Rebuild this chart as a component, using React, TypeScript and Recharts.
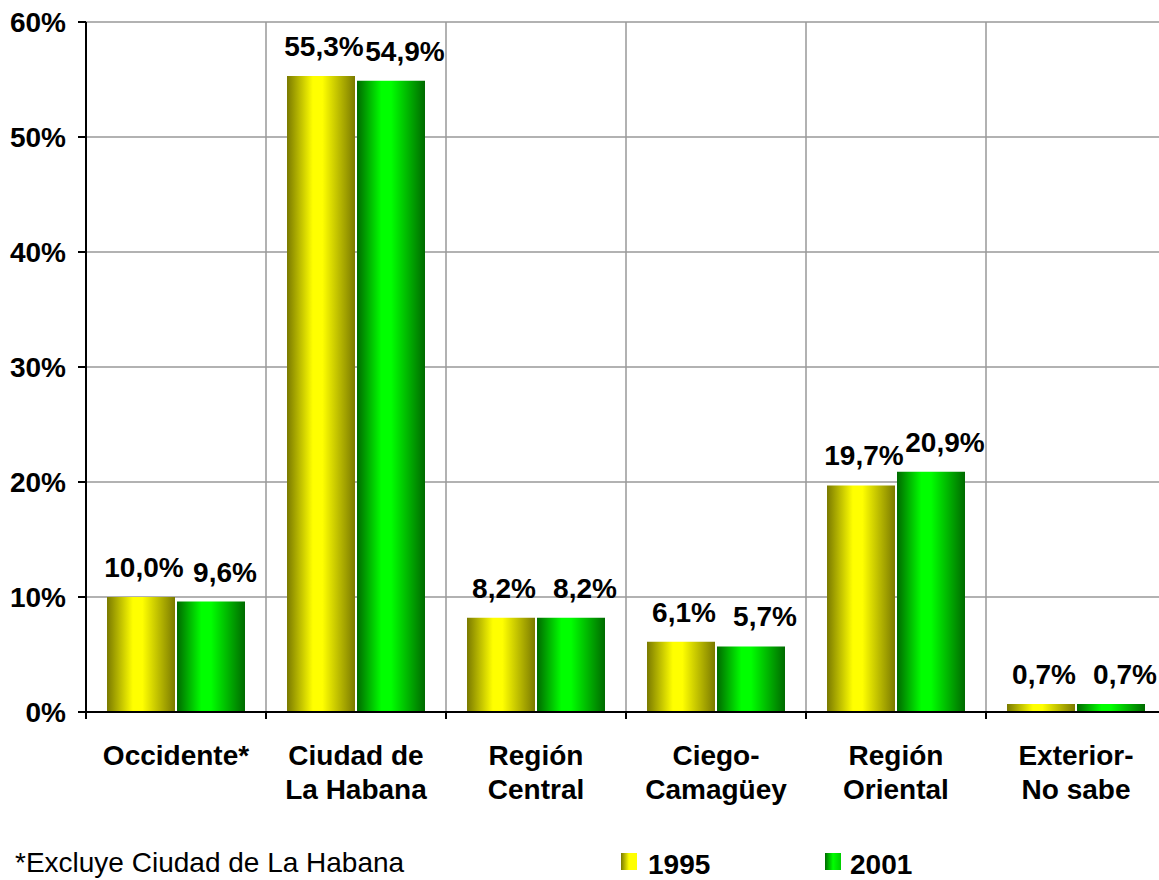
import React from 'react';
import { BarChart, Bar, XAxis, YAxis, CartesianGrid, LabelList } from 'recharts';

const categories = [
  'Occidente*',
  'Ciudad de\nLa Habana',
  'Región\nCentral',
  'Ciego-\nCamagüey',
  'Región\nOriental',
  'Exterior-\nNo sabe',
];
const values1995 = [10.0, 55.3, 8.2, 6.1, 19.7, 0.7];
const values2001 = [9.6, 54.9, 8.2, 5.7, 20.9, 0.7];
const yTicks = [0, 10, 20, 30, 40, 50, 60];
const seriesNames = ['1995', '2001'];
const footnote = '*Excluye Ciudad de La Habana';

const data = categories.map((name, i) => ({ name, v1995: values1995[i], v2001: values2001[i] }));

const FONT = '"Liberation Sans", Arial, sans-serif';
const FS = 28;
const CHART_W = 1180;
const CHART_H = 880;
const MARGIN = { top: 22, right: 14, left: 0, bottom: 0 };
const Y_AXIS_W = 86;
const X_AXIS_H = 168;
const PLOT_W = CHART_W - MARGIN.left - MARGIN.right - Y_AXIS_W;
const PLOT_H = CHART_H - MARGIN.top - MARGIN.bottom - X_AXIS_H;
const AXIS_Y = MARGIN.top + PLOT_H;
const BAND = PLOT_W / categories.length;

const fmt = (v: number) => v.toFixed(1).replace('.', ',') + '%';

function CategoryTick({ x, payload }: any) {
  const lines = String(payload.value).split('\n');
  const left = x - BAND / 2;
  return (
    <g>
      <line x1={left} x2={left} y1={AXIS_Y} y2={AXIS_Y + 7} stroke="#000" strokeWidth={2} />
      <text x={x} y={AXIS_Y + 53} textAnchor="middle" fontFamily={FONT} fontWeight="bold" fontSize={FS} fill="#000">
        {lines.map((l, i) => (
          <tspan key={i} x={x} dy={i === 0 ? 0 : 34}>
            {l}
          </tspan>
        ))}
      </text>
    </g>
  );
}

function makeLabel(dx: number) {
  return (props: any) => {
    const { x, y, width, value } = props;
    return (
      <text
        x={Number(x) + Number(width) / 2 + dx}
        y={Number(y) - 20}
        textAnchor="middle"
        fontFamily={FONT}
        fontWeight="bold"
        fontSize={FS}
        fill="#000"
      >
        {fmt(Number(value))}
      </text>
    );
  };
}

export default function App() {
  const gridX = Array.from({ length: categories.length + 1 }, (_, i) => MARGIN.left + Y_AXIS_W + i * BAND);
  return (
    <div style={{ position: 'absolute', left: 0, top: 0, width: 1159, height: 880, overflow: 'hidden', background: '#fff' }}>
      <BarChart width={CHART_W} height={CHART_H} data={data} margin={MARGIN} barCategoryGap={21} barGap={2}>
        <defs>
          <linearGradient id="grad1995" x1="0" y1="0" x2="1" y2="0">
            <stop offset="0%" stopColor="#7a7a00" />
            <stop offset="38%" stopColor="#ffff00" />
            <stop offset="52%" stopColor="#ffff00" />
            <stop offset="100%" stopColor="#7a7a00" />
          </linearGradient>
          <linearGradient id="grad2001" x1="0" y1="0" x2="1" y2="0">
            <stop offset="0%" stopColor="#006a00" />
            <stop offset="36%" stopColor="#00ff00" />
            <stop offset="50%" stopColor="#00ff00" />
            <stop offset="100%" stopColor="#006a00" />
          </linearGradient>
        </defs>
        <CartesianGrid stroke="#999" strokeWidth={1.5} verticalCoordinatesGenerator={() => gridX} />
        <XAxis
          dataKey="name"
          height={X_AXIS_H}
          interval={0}
          stroke="#000"
          strokeWidth={2}
          tickLine={false}
          tick={<CategoryTick />}
        />
        <YAxis
          width={Y_AXIS_W}
          domain={[0, 60]}
          ticks={yTicks}
          interval={0}
          stroke="#000"
          strokeWidth={2}
          tickSize={8}
          tickMargin={12}
          tickFormatter={(v: number) => `${v}%`}
          tick={{ fontFamily: FONT, fontWeight: 'bold', fontSize: FS, fill: '#000' }}
        />
        <Bar dataKey="v1995" fill="url(#grad1995)" isAnimationActive={false}>
          <LabelList dataKey="v1995" content={makeLabel(3)} />
        </Bar>
        <Bar dataKey="v2001" fill="url(#grad2001)" isAnimationActive={false}>
          <LabelList dataKey="v2001" content={makeLabel(14)} />
        </Bar>
      </BarChart>
      <svg width={1159} height={880} style={{ position: 'absolute', left: 0, top: 0, pointerEvents: 'none' }}>
        <defs>
          <linearGradient id="lg1995" x1="0" y1="0" x2="1" y2="0">
            <stop offset="0%" stopColor="#7a7a00" />
            <stop offset="50%" stopColor="#ffff00" />
            <stop offset="100%" stopColor="#ffff00" />
          </linearGradient>
          <linearGradient id="lg2001" x1="0" y1="0" x2="1" y2="0">
            <stop offset="0%" stopColor="#006a00" />
            <stop offset="50%" stopColor="#00ff00" />
            <stop offset="100%" stopColor="#00cc00" />
          </linearGradient>
        </defs>
        <text x={15} y={872} fontFamily={FONT} fontSize={FS} fill="#000">
          {footnote}
        </text>
        {seriesNames.map((s, i) => (
          <g key={s}>
            <rect x={621 + i * 204} y={853} width={16} height={17} fill={`url(#lg${s})`} />
            <text x={648 + i * 202} y={874} fontFamily={FONT} fontWeight="bold" fontSize={FS} fill="#000">
              {s}
            </text>
          </g>
        ))}
      </svg>
    </div>
  );
}
